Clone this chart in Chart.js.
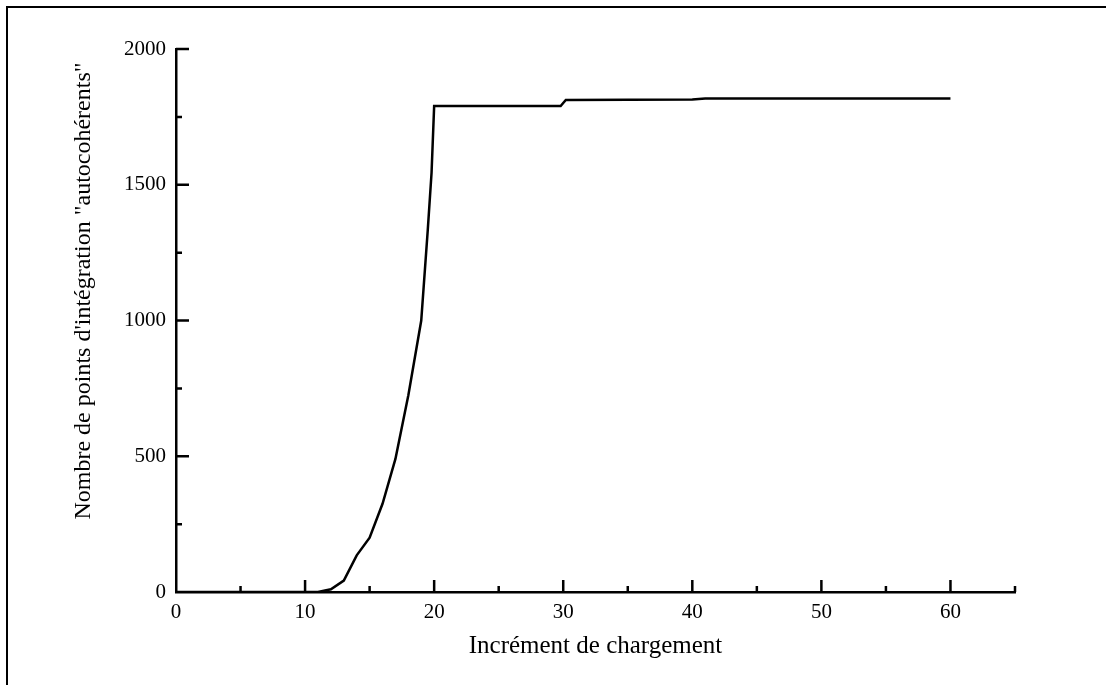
<!DOCTYPE html>
<html lang="fr">
<head>
<meta charset="UTF-8" />
<title>Points autocohérents</title>
<script src="https://cdn.jsdelivr.net/npm/chart.js"></script>
<style>
    html, body { margin: 0; padding: 0; background: #fff; overflow: hidden; }
    .cadre {
        position: absolute; left: 6px; top: 6px; width: 1200px; height: 800px;
        border-left: 2px solid #000; border-top: 2px solid #000;
    }
    #grafico { position: absolute; left: 0; top: 0; }
</style>
</head>
<body>
<div class="cadre"></div>
<canvas id="grafico" width="1106" height="685"></canvas>

<script>
    // incrément de chargement -> nombre de points autocohérents
    const increments = [0, 11, 12, 13, 14, 15, 16, 17, 18, 19, 19.5, 19.8, 20, 29.8, 30.2, 40, 41, 60];
    const points = [0, 0, 10, 42, 135, 200, 325, 490, 725, 1000, 1330, 1545, 1790, 1790, 1812, 1814, 1818, 1818];

    const xTicks = [0, 10, 20, 30, 40, 50, 60];
    const yTicks = [0, 500, 1000, 1500, 2000];

    const titreY = 'Nombre de points d\'intégration "autocohérents"';
    const police = "'Liberation Serif', 'Times New Roman', serif";

    // petites graduations tournées vers l'intérieur + titre vertical
    const graduations = {
        id: 'graduations',
        afterDraw(chart) {
            const c = chart.ctx;
            const x = chart.scales.x, y = chart.scales.y;
            c.save();
            c.strokeStyle = '#000';
            c.lineWidth = 2.5;
            c.beginPath();
            for (let v = 5; v <= 65; v += 5) {
                const px = x.getPixelForValue(v);
                const len = v % 10 === 0 ? 12 : 6;
                c.moveTo(px, y.bottom);
                c.lineTo(px, y.bottom - len);
            }
            for (let v = 250; v <= 2000; v += 250) {
                const py = y.getPixelForValue(v);
                const len = v % 500 === 0 ? 13 : 6;
                c.moveTo(x.left, py);
                c.lineTo(x.left + len, py);
            }
            c.stroke();

            c.translate(84, 291);
            c.rotate(-Math.PI / 2);
            c.fillStyle = '#000';
            c.font = '24px ' + police;
            c.textAlign = 'center';
            c.textBaseline = 'middle';
            c.fillText(titreY, 0, 0);
            c.restore();
        }
    };

    const ctx = document.getElementById('grafico').getContext('2d');

    new Chart(ctx, {
        type: 'line',
        data: {
            datasets: [{
                data: increments.map((v, i) => ({ x: v, y: points[i] })),
                borderColor: '#000',
                borderWidth: 2.5,
                pointRadius: 0,
                tension: 0,
                fill: false
            }]
        },
        options: {
            responsive: false,
            animation: false,
            devicePixelRatio: 1,
            layout: { padding: { left: 0, top: 49, right: 91, bottom: 0 } },
            plugins: { legend: { display: false }, tooltip: { enabled: false } },
            scales: {
                x: {
                    type: 'linear',
                    min: 0,
                    max: 65,
                    afterFit: s => { s.height = 93; },
                    afterBuildTicks: s => { s.ticks = xTicks.map(v => ({ value: v })); },
                    grid: { display: false, drawTicks: false },
                    border: { display: true, color: '#000', width: 2.5 },
                    ticks: {
                        color: '#000', padding: 8, maxRotation: 0,
                        font: { family: police, size: 21 },
                        callback: v => String(v)
                    },
                    title: {
                        display: true,
                        text: 'Incrément de chargement',
                        color: '#000',
                        font: { family: police, size: 25 },
                        padding: { top: 0, bottom: 24 }
                    }
                },
                y: {
                    min: 0,
                    max: 2000,
                    afterFit: s => { s.width = 176; },
                    afterBuildTicks: s => { s.ticks = yTicks.map(v => ({ value: v })); },
                    grid: { display: false, drawTicks: false },
                    border: { display: true, color: '#000', width: 2.5 },
                    ticks: {
                        color: '#000', padding: 10,
                        font: { family: police, size: 21 },
                        callback: v => String(v)
                    },
                    title: { display: false }
                }
            }
        },
        plugins: [graduations]
    });
</script>
</body>
</html>
